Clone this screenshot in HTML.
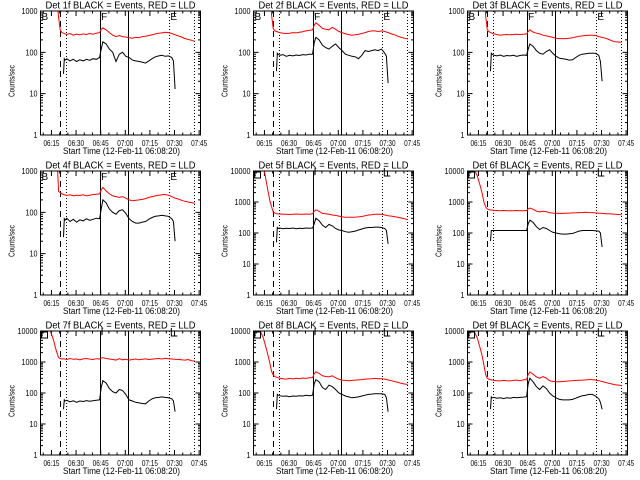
<!DOCTYPE html>
<html><head><meta charset="utf-8"><style>
html,body{margin:0;padding:0;background:#fff;}
svg{display:block;font-family:"Liberation Sans",sans-serif;}
</style></head>
<body>
<svg id="chart" width="640" height="480" viewBox="0 0 640 480" xmlns="http://www.w3.org/2000/svg">
<rect x="0" y="0" width="640" height="480" fill="#fff"/>
</svg>
<script>
// time grids (minutes after 06:08:20)
const redTimes = [0,2,4,6,8,9,10,11,12,13,14,16,18,20,22,24,26,28,30,32,34,36,37,38,40,42,44,46,48,50,52,54,56,58,60,62,64,66,68,70,72,74,76,78,80,82,84,86,88,90,92,94];
const blackTimes = [14,14.5,15,16,18,20,22,24,26,28,30,32,34,36,37,38,40,42,44,46,48,50,52,54,56,58,60,62,64,66,68,70,72,74,76,78,80,81,82];
const detNames = ["1f","2f","3f","4f","5f","6f","7f","8f","9f"];
const yMaxDecade = [3,3,3,3,4,4,4,4,4];
const xTickLabels = ["06:15","06:30","06:45","07:00","07:15","07:30","07:45"];
const xTickTimes = [6.67,21.67,36.67,51.67,66.67,81.67,96.67];
const markerTimes = [11.6,15.7,36.3,53.6,78.5,93.5];
const markerStyles = ["dash","dot","solid","solid","dot","dot"];

const red1 = [5000,5000,5000,5000,5000,5000,2000,700,350,300,290,270,285,260,275,265,280,270,285,275,290,300,360,390,350,300,260,240,255,240,235,225,220,230,225,240,245,255,265,280,290,295,305,300,285,265,250,235,215,205,195,185];
const red2 = [5000,5000,5000,5000,5000,5000,2500,800,380,330,320,300,290,285,290,300,295,305,315,330,340,350,450,520,450,380,360,350,400,360,320,300,280,270,260,265,275,285,300,320,330,330,320,330,320,300,280,265,245,230,220,210];
const red3 = [5000,5000,5000,5000,5000,5000,2500,800,360,320,300,280,270,260,265,270,265,270,275,270,275,280,320,350,310,290,280,260,250,240,230,220,215,215,215,218,225,235,245,250,255,258,260,255,240,230,220,205,190,180,178,175];
const red4 = [5000,5000,5000,5000,5000,5000,2500,320,300,280,270,255,265,250,260,255,265,250,260,270,275,280,350,400,330,280,250,240,230,240,220,200,190,195,200,205,215,230,240,250,260,265,270,260,240,220,210,195,185,178,172,165];
const red5 = [15000,15000,15000,15000,4000,2000,1100,700,480,440,420,410,400,405,395,400,410,400,405,410,400,420,500,560,500,430,420,400,380,370,350,330,320,320,320,325,330,340,360,380,390,400,400,400,380,360,350,335,320,305,290,270];
const red6 = [9000,10000,11000,7000,3000,1800,1000,700,600,570,550,540,530,525,530,520,525,520,530,525,520,530,600,640,580,510,480,500,490,450,440,435,430,430,435,440,445,450,455,460,465,460,455,445,440,430,420,415,410,400,395,390];
const red7 = [15000,15000,15000,10000,5000,3000,2000,1400,1300,1250,1280,1200,1300,1220,1250,1180,1260,1300,1240,1200,1280,1250,1350,1380,1300,1250,1200,1150,1280,1180,1220,1150,1200,1250,1180,1220,1260,1200,1240,1280,1300,1250,1320,1280,1250,1220,1200,1180,1150,1200,1100,1080];
const red8 = [10000,10500,10500,6000,2500,1500,900,500,380,340,320,300,290,280,295,285,300,290,305,295,310,315,420,480,430,360,340,330,360,310,280,260,255,250,255,260,265,270,280,285,290,295,290,290,280,265,250,235,220,205,195,190];
const red9 = [10500,10500,10000,6000,2500,1500,800,400,300,280,270,255,250,245,255,250,245,255,260,250,265,270,400,480,400,330,300,340,300,250,235,230,230,235,240,245,250,255,258,260,265,270,270,260,250,235,220,205,195,185,180,175];

const blk1 = [30,70,65,70,62,68,60,66,62,68,64,70,68,75,120,180,160,120,100,60,90,100,80,75,65,62,60,58,55,62,70,78,82,85,80,82,75,62,13];
const blk2 = [35,95,90,85,88,80,85,82,86,84,88,86,90,90,170,230,200,150,130,120,140,160,130,110,90,85,80,78,70,85,110,105,110,115,110,120,95,80,18];
const blk3 = [35,95,90,85,82,86,80,84,82,85,80,84,86,85,120,160,140,110,95,90,105,115,95,80,72,70,68,65,66,75,85,90,92,95,95,95,85,60,20];
const blk4 = [25,70,65,72,60,68,58,66,62,70,64,68,72,70,120,200,170,120,100,90,110,115,95,70,60,55,55,58,60,68,75,80,82,85,82,80,70,60,20];
const blk5 = [50,150,140,145,138,142,140,145,138,142,140,145,142,145,200,300,250,180,150,190,170,140,125,120,110,105,110,115,125,135,145,150,150,155,155,150,140,120,45];
const blk6 = [55,120,120,120,120,120,120,120,120,120,120,120,120,120,200,260,220,160,130,150,140,120,105,100,95,92,92,94,96,105,115,120,120,120,120,118,115,100,35];
const blk7 = [30,60,55,58,52,56,50,55,53,57,54,56,58,60,150,250,210,140,110,100,130,120,90,60,55,50,48,46,45,55,65,70,72,75,72,70,65,55,25];
const blk8 = [30,90,85,82,78,80,76,80,78,82,80,84,82,85,200,270,230,150,130,180,160,130,100,90,80,75,70,72,75,80,85,90,92,95,95,95,90,70,25];
const blk9 = [30,75,70,72,68,70,66,70,68,72,70,72,74,76,200,300,230,160,130,170,140,100,80,70,62,60,60,60,62,68,75,82,85,90,90,80,65,50,30];

const redSeries = [red1,red2,red3,red4,red5,red6,red7,red8,red9];
const blackSeries = [blk1,blk2,blk3,blk4,blk5,blk6,blk7,blk8,blk9];

const NS = "http://www.w3.org/2000/svg";
const svg = document.getElementById("chart");
function mk(tag, attrs, parent){ const e=document.createElementNS(NS,tag); for(const k in attrs) e.setAttribute(k,attrs[k]); (parent||svg).appendChild(e); return e; }

const T0 = 0, T1 = 97.5, PW = 160, PH = 124;

for(let p=0;p<9;p++){
  const col=p%3, row=Math.floor(p/3);
  const L = [40.5,253.5,467.5][col], TOP = row*160+11, B = TOP+PH;
  const maxDec = yMaxDecade[p];
  const xs = t => L + (t-T0)/(T1-T0)*PW;
  const ys = v => B - Math.log10(Math.max(v,0.5))/maxDec*PH;

  const g = mk("g",{});
  
  

  const cid = "clip"+p;
  const cp = mk("clipPath",{id:cid},g);
  mk("rect",{x:L,y:TOP,width:PW,height:PH},cp);

  const title = mk("text",{x:L+80,y:TOP-2.5,"font-size":"10","text-anchor":"middle",textLength:"150",lengthAdjust:"spacingAndGlyphs",fill:"#000"},g);
  title.textContent = "Det "+detNames[p]+" BLACK = Events, RED = LLD";
  
  

  const yl = mk("text",{x:0,y:0,"font-size":"8","text-anchor":"middle",textLength:"32",lengthAdjust:"spacingAndGlyphs",transform:`translate(${L-26},${TOP+70}) rotate(-90)`},g);
  yl.textContent = "Counts/sec";
  
  

  const xt = mk("text",{x:L+81,y:B+19,"font-size":"9","text-anchor":"middle",textLength:"117",lengthAdjust:"spacingAndGlyphs"},g);
  xt.textContent = "Start Time (12-Feb-11 06:08:20)";
  
  

  let tk = "";
  for(let d=0; d<=maxDec; d++){
    const y = ys(Math.pow(10,d));
    tk += `M${L},${y}h5M${L+PW},${y}h-5`;
    const lab = String(Math.pow(10,d));
    const yt = mk("text",{x:L-3,y:y+3,"font-size":"8","text-anchor":"end",textLength:String(lab.length*4),lengthAdjust:"spacingAndGlyphs"},g);
    yt.textContent = lab;
    
    
    if(d<maxDec){ for(let m=2;m<=9;m++){ const ym=ys(m*Math.pow(10,d)); tk+=`M${L},${ym}h2.5M${L+PW},${ym}h-2.5`; } }
  }
  for(let i=0;i<xTickTimes.length;i++){
    const x = xs(xTickTimes[i]);
    tk += `M${x},${B}v-5M${x},${TOP}v5`;
    const xl = mk("text",{x:x,y:B+11,"font-size":"8","text-anchor":"middle",textLength:"16",lengthAdjust:"spacingAndGlyphs"},g);
    xl.textContent = xTickLabels[i];
    
    
  }
  for(let t=1.67;t<T1;t+=5){ const x=xs(t); tk+=`M${x},${B}v-2.5M${x},${TOP}v2.5`; }
  const ticks = mk("path",{d:tk,stroke:"#000","stroke-width":"1",fill:"none"},g);
  
  

  for(let i=0;i<markerTimes.length;i++){
    const x = Math.round(xs(markerTimes[i]))+0.5;
    const attrs = {x1:x,x2:x,y1:TOP,y2:B,stroke:"#000","stroke-width":"1"};
    if(markerStyles[i]==="dash") attrs["stroke-dasharray"]="6,4";
    if(markerStyles[i]==="dot") attrs["stroke-dasharray"]="1,2";
    const ln = mk("line",attrs,g);
    
    
  }

  const rp = redTimes.map((t,i)=>`${xs(t).toFixed(1)},${ys(redSeries[p][i]).toFixed(1)}`).join(" ");
  const redLine = mk("polyline",{points:rp,fill:"none",stroke:"#ff0000","stroke-width":"1","clip-path":`url(#${cid})`},g);
  
  
  const bp = blackTimes.map((t,i)=>`${xs(t).toFixed(1)},${ys(blackSeries[p][i]).toFixed(1)}`).join(" ");
  const blkLine = mk("polyline",{points:bp,fill:"none",stroke:"#000","stroke-width":"1","clip-path":`url(#${cid})`},g);
  
  

  const fr = mk("rect",{x:L,y:TOP,width:PW,height:PH,fill:"none",stroke:"#000","stroke-width":"1"},g);
  
  

  if(maxDec===3){
    const labs=[["B",L+1],["F",xs(36.3)+1],["E",xs(78.5)+1]];
    for(const [s,x] of labs){
      const tl = mk("text",{x:x,y:TOP+9,"font-size":"10"},g);
      tl.textContent = s;
      
      
    }
  } else {
    const mp = mk("path",{d:`M${L+1},${TOP+1}h6v6h-6zM${xs(36.3)+2},${TOP-3}v7M${xs(78.5)+2},${TOP-3}v8h6`,stroke:"#000",fill:"none","stroke-width":"1"},g);
    
    
  }
}
</script>
</body></html>
